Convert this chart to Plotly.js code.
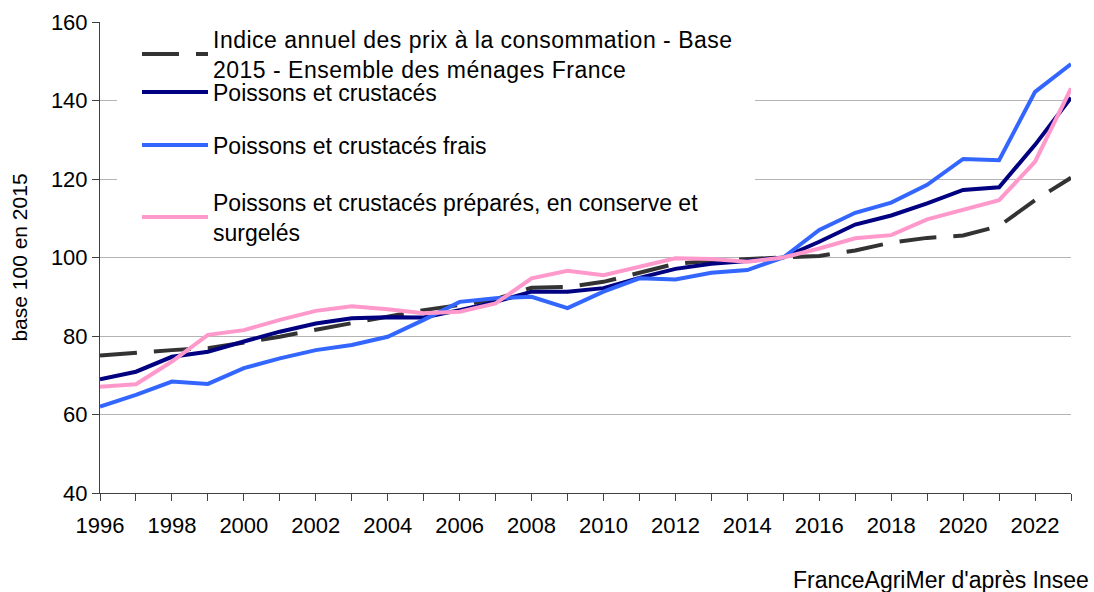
<!DOCTYPE html>
<html>
<head>
<meta charset="utf-8">
<script src="https://cdn.plot.ly/plotly-3.0.1.min.js"></script>
<style>
body{margin:0;background:#fff}
.legendtext{letter-spacing:0.5px}
</style>
</head>
<body>
<div id="chart" style="width:1094px;height:592px"></div>
<script>
const years = [1996,1997,1998,1999,2000,2001,2002,2003,2004,2005,2006,2007,2008,2009,2010,2011,2012,2013,2014,2015,2016,2017,2018,2019,2020,2021,2022,2023];
const cpi = [75.0,75.8,76.4,76.9,78.4,79.8,81.6,83.2,84.8,86.6,87.9,89.4,92.3,92.5,93.8,96.2,98.4,99.2,99.6,100,100.4,101.8,103.8,105.0,105.6,108.0,114.6,120.3];
const poissons = [69.0,70.9,74.7,76.0,78.6,81.1,83.2,84.5,84.8,84.7,86.6,88.7,91.3,91.3,92.2,94.8,97.1,98.4,99.1,100,104.0,108.4,110.7,113.8,117.2,117.9,128.7,140.7];
const frais = [62.0,65.0,68.4,67.8,71.8,74.3,76.4,77.7,79.8,84.1,88.7,89.6,90.0,87.1,91.3,94.7,94.4,96.1,96.8,100,107.0,111.4,114.0,118.5,125.1,124.8,142.2,149.3];
const prepares = [67.1,67.7,73.5,80.3,81.5,84.1,86.4,87.6,86.8,85.8,86.2,88.3,94.7,96.6,95.5,97.7,99.8,99.6,98.9,100,102.3,104.9,105.7,109.7,112.1,114.6,124.4,143.1];
const seriesNames = [
  "Indice annuel des prix à la consommation - Base<br>2015 - Ensemble des ménages France",
  "Poissons et crustacés",
  "Poissons et crustacés frais",
  "Poissons et crustacés préparés, en conserve et<br>surgelés"
];
const yTitle = "base 100 en 2015";
const sourceText = "FranceAgriMer d'après Insee";

const FONT = "Liberation Sans, Arial, sans-serif";

const traces = [
  {x: years, y: cpi, name: seriesNames[0], mode: 'lines', legend: 'legend',
   line: {color: '#333333', width: 4, dash: '37px,17px'}},
  {x: years, y: poissons, name: seriesNames[1], mode: 'lines', legend: 'legend2',
   line: {color: '#000080', width: 4}},
  {x: years, y: frais, name: seriesNames[2], mode: 'lines', legend: 'legend3',
   line: {color: '#3366ff', width: 4}},
  {x: years, y: prepares, name: seriesNames[3], mode: 'lines', legend: 'legend4',
   line: {color: '#ff99cc', width: 4}}
];

function px2x(p){ return (p - 100) / 971; }
function px2y(p){ return (493 - p) / 471; }

function leg(yc){
  return {x: px2x(137), xanchor: 'left', y: px2y(yc), yanchor: 'middle',
    bgcolor: 'rgba(0,0,0,0)', borderwidth: 0, itemwidth: 66,
    font: {family: FONT, size: 23, color: '#000'}, tracegroupgap: 0};
}

const layout = {
  width: 1094, height: 592,
  margin: {l: 100, r: 23, t: 22, b: 99},
  paper_bgcolor: '#fff', plot_bgcolor: '#fff',
  font: {family: FONT, color: '#000'},
  showlegend: true,
  legend: leg(54),
  legend2: leg(92),
  legend3: leg(145),
  legend4: leg(217),
  xaxis: {
    range: [1996, 2023], tick0: 1996, dtick: 2, tickmode: 'linear',
    ticks: 'outside', ticklen: 7, tickcolor: '#404040', tickwidth: 1,
    minor: {dtick: 1, tick0: 1996, ticks: 'outside', ticklen: 7, tickcolor: '#404040', showgrid: false},
    showline: true, linecolor: '#404040', linewidth: 1,
    showgrid: false, zeroline: false, ticklabelstandoff: 6,
    tickfont: {family: FONT, size: 22, color: '#000'}
  },
  yaxis: {
    range: [40, 160], dtick: 20, tick0: 40,
    ticks: 'outside', ticklen: 7, tickcolor: '#404040',
    showline: true, linecolor: '#404040', linewidth: 1,
    showgrid: true, gridcolor: '#b4b4b4', gridwidth: 1, zeroline: false,
    tickfont: {family: FONT, size: 22, color: '#000'},
    title: {text: yTitle, font: {family: FONT, size: 21, color: '#000'}, standoff: 17}
  },
  shapes: [
    {type: 'rect', xref: 'paper', yref: 'paper', x0: px2x(117), x1: px2x(755), y0: px2y(248), y1: px2y(24),
     fillcolor: '#fff', line: {width: 0}, layer: 'above'}
  ],
  annotations: [
    {text: sourceText, xref: 'paper', yref: 'paper', x: px2x(1091), y: px2y(580),
     xanchor: 'right', yanchor: 'middle', showarrow: false,
     font: {family: FONT, size: 23, color: '#000'}}
  ]
};

Plotly.newPlot('chart', traces, layout, {displayModeBar: false, staticPlot: true});
</script>
</body>
</html>
